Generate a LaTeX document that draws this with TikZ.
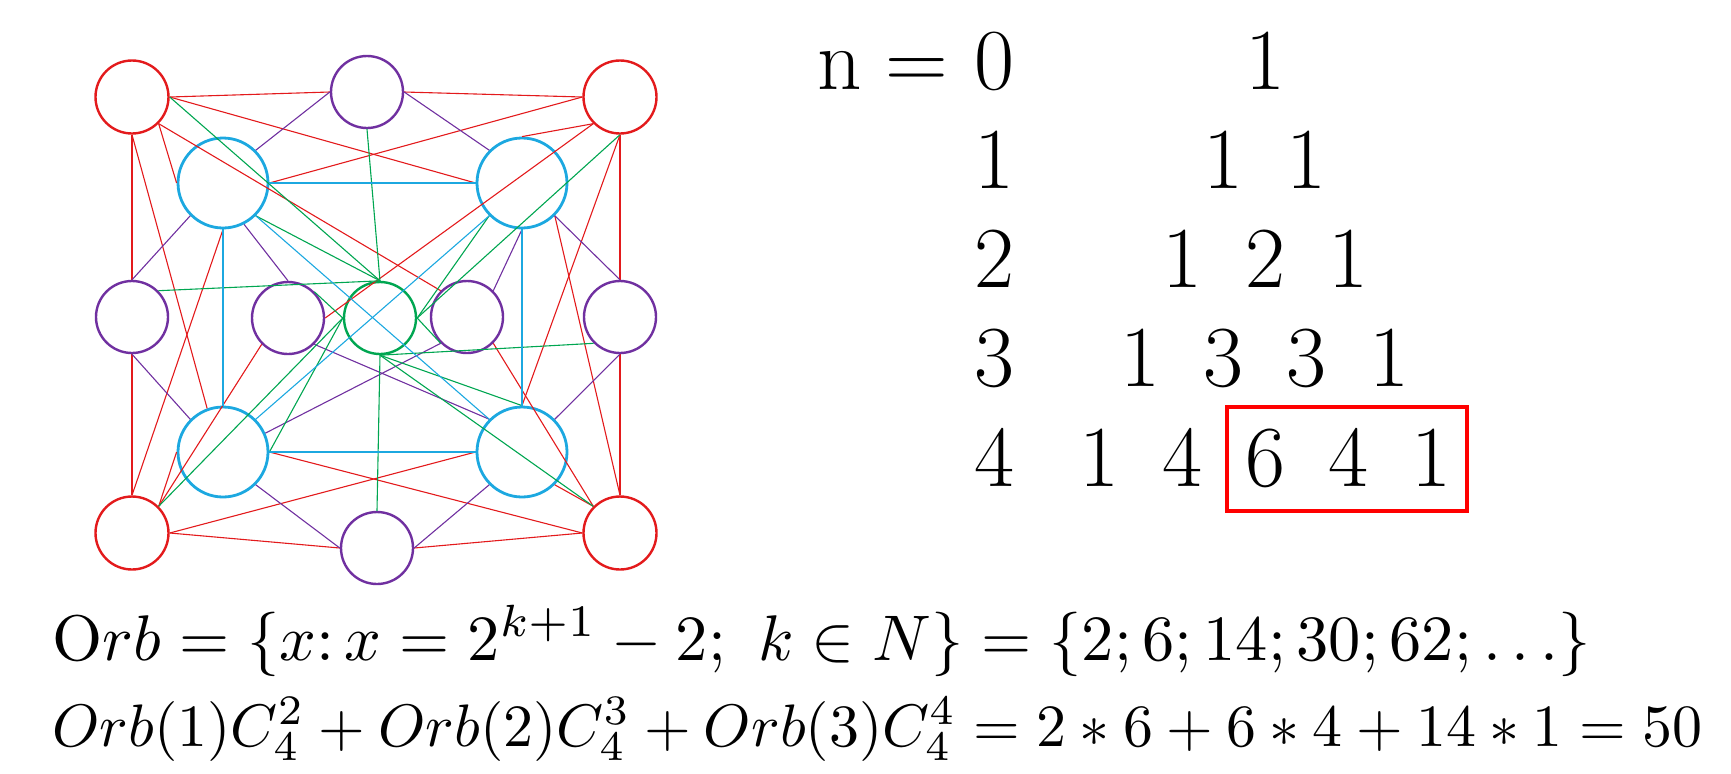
\documentclass[tikz,border=0pt]{standalone}
\usepackage{graphicx}
\definecolor{colred}{HTML}{E31A1C}
\definecolor{colpur}{HTML}{7030A0}
\definecolor{colcya}{HTML}{1CA8E0}
\definecolor{colgre}{HTML}{00A651}
\definecolor{colbox}{HTML}{FF0000}
\begin{document}
\begin{tikzpicture}[x=0.5pt,y=-0.5pt,
  vtx/.style={circle,draw,line width=1.2pt,inner sep=0pt,minimum size=#1},
  vred/.style={vtx=36.5pt,draw=colred},
  vpur/.style={vtx=36pt,draw=colpur},
  vcya/.style={vtx=45pt,draw=colcya,line width=1.4pt},
  vgre/.style={vtx=36pt,draw=colgre},
  edge/.style={line width=0.55pt},
  num/.style={anchor=base,inner sep=0pt,font=\fontsize{43.5pt}{50pt}\selectfont},
  formula/.style={anchor=base west,inner sep=0pt}]
  \useasboundingbox (0,0) rectangle (1731,773);
  % vertices
  \node[vred] (rtl) at (132,97) {};
  \node[vred] (rtr) at (620,97) {};
  \node[vred] (rbl) at (132,533) {};
  \node[vred] (rbr) at (620,533) {};
  \node[vpur] (ptop) at (367,92) {};
  \node[vpur] (pleft) at (132,317) {};
  \node[vpur] (pin1) at (288,318) {};
  \node[vpur] (pin2) at (467,317) {};
  \node[vpur] (pright) at (620,317) {};
  \node[vpur] (pbot) at (377,548) {};
  \node[vcya] (ctl) at (223,183) {};
  \node[vcya] (ctr) at (522,183) {};
  \node[vcya] (cbl) at (223,452) {};
  \node[vcya] (cbr) at (522,452) {};
  \node[vgre] (mid) at (380,318) {};
  % edges
  \foreach \a/\b in {rtl.east/ptop.west, rtl.east/ctr.west, rtl.south east/ctl.west,
      rtl.south east/pin2.north west, rtl.south/pleft.north, rtl.south/cbl.110,
      rtr.west/ptop.east, rtr.west/ctl.east, rtr.south west/ctr.north,
      rtr.south west/pin1.east, rtr.south/pright.north, rtr.south/cbr.north,
      rbl.north/pleft.south, rbl.north/ctl.south, rbl.north east/pin1.south west,
      rbl.north east/cbl.west, rbl.east/cbr.west, rbl.east/pbot.west,
      rbr.west/cbl.east, rbr.west/pbot.east, rbr.north west/cbr.south east,
      rbr.north west/pin2.south east, rbr.north/pright.south, rbr.north/ctr.south east}
    \draw[edge,colred] (\a) -- (\b);
  \foreach \a/\b in {ptop.west/ctl.north east, ptop.east/ctr.north west,
      pleft.north/ctl.south west, pleft.south/cbl.north west,
      pin1.north/ctl.-63, pin1.south east/cbr.north west,
      pin2.north east/ctr.south, pin2.south west/cbl.24,
      pright.north/ctr.south east, pright.south/cbr.north east,
      pbot.west/cbl.south east, pbot.east/cbr.south west}
    \draw[edge,colpur] (\a) -- (\b);
  \foreach \a/\b in {rtl.east/mid.north, rtr.south/mid.east, rbl.north east/mid.west,
      rbr.north west/mid.south, ptop.south/mid.north, pleft.north east/mid.north,
      pin1.north east/mid.west, pin2.south west/mid.east, pright.south west/mid.south,
      pbot.north/mid.south, ctl.south east/mid.north, ctr.south west/mid.east,
      cbl.east/mid.west, cbr.north/mid.south}
    \draw[edge,colgre] (\a) -- (\b);
  \foreach \a/\b in {ctl.east/ctr.west, ctl.south/cbl.north, cbl.east/cbr.west,
      ctr.south/cbr.north, ctl.south east/cbr.north west, cbl.north east/ctr.south west}
    \draw[edge,colcya] (\a) -- (\b);
  % Pascal triangle
  \node[num] (nlab) at (840,89) {n};
  \node[num] (eqlab) at (917,89) {=};
  \foreach \n/\vals in {0/{1},1/{1,1},2/{1,2,1},3/{1,3,3,1},4/{1,4,6,4,1}} {
    \node[num] (row\n) at (994,{89+99.25*\n}) {\n};
    \foreach \v [count=\k from 0] in \vals
      \node[num] (t\n-\k) at ({1265+(2*\k-\n)*41.5},{89+99.25*\n}) {\v};
  }
  \draw[colbox,line width=2.3pt] (1227,407) rectangle (1467,511);
  % formulas
  \node[formula] (orb) at (52,660)
    {\resizebox{769pt}{!}{$\mathrm{O}rb = \{x\colon x = 2^{k+1} - 2;\ k \in N\} = \{2; 6; 14; 30; 62; \ldots\}$}};
  \node[formula] (sum) at (52,746)
    {\resizebox{825pt}{!}{$Orb(1)C_4^2 + Orb(2)C_4^3 + Orb(3)C_4^4 = 2 \ast 6 + 6 \ast 4 + 14 \ast 1 = 50$}};
\end{tikzpicture}
\end{document}
